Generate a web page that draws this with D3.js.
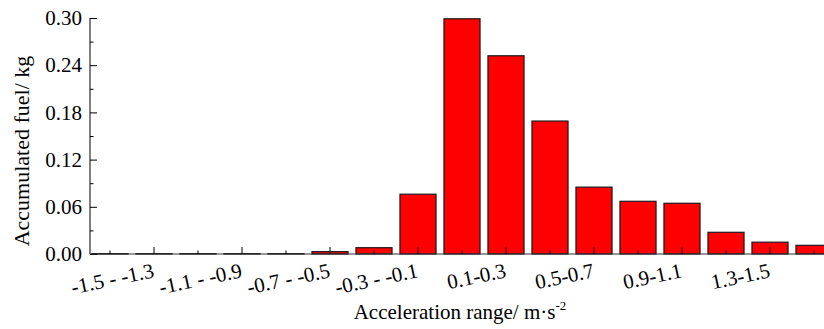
<!DOCTYPE html>
<html>
<head>
	<title></title>
	<script src="https://d3js.org/d3.v7.min.js"></script>
	<style>
		body { margin: 0; background: #fff; }
		svg { display: block; }
		text { font-family: "Liberation Serif", "Times New Roman", serif; fill: #000; }
	</style>
</head>
<body>
	<svg width="824" height="329"></svg>
<script type="text/javascript">

	// acceleration bins (m/s^2)
	var categories = ["-1.5 - -1.3", "-1.3 - -1.1", "-1.1 - -0.9", "-0.9 - -0.7", "-0.7 - -0.5",
		"-0.5 - -0.3", "-0.3 - -0.1", "-0.1-0.1", "0.1-0.3", "0.3-0.5", "0.5-0.7", "0.7-0.9",
		"0.9-1.1", "1.1-1.3", "1.3-1.5", "1.5-1.7", "1.7-1.9"];
	// accumulated fuel (kg)
	var fuel = [0.0005, 0.0005, 0.0005, 0.0005, 0.0005, 0.003, 0.008, 0.076, 0.299,
		0.252, 0.169, 0.085, 0.067, 0.0645, 0.0276, 0.015, 0.011];
	// only every other bin gets a label
	var tickLabels = ["-1.5 - -1.3", "-1.1 - -0.9", "-0.7 - -0.5", "-0.3 - -0.1",
		"0.1-0.3", "0.5-0.7", "0.9-1.1", "1.3-1.5"];
	var yTicks = [0, 0.06, 0.12, 0.18, 0.24, 0.30];

	var svg = d3.select("svg");
	const plotLeft = 90, plotTop = 18, plotBottom = 254;
	const step = 44;

	var x = d3.scaleBand()
		.domain(categories)
		.range([plotLeft - 2, plotLeft - 2 + categories.length * step])
		.paddingInner(0.18)
		.paddingOuter(0.09);
	var y = d3.scaleLinear()
		.domain([0, 0.30])
		.range([plotBottom, plotTop]);

	// bars
	svg.append("g")
		.selectAll("rect")
		.data(fuel)
		.enter().append("rect")
		.attr("x", function(d, i) { return x(categories[i]); })
		.attr("y", function(d) { return y(d); })
		.attr("width", x.bandwidth())
		.attr("height", function(d) { return y(0) - y(d); })
		.attr("fill", "#ff0000")
		.attr("stroke", "#1a1a1a")
		.attr("stroke-width", 1.2);

	// y axis, ticks point inward
	var yAxis = svg.append("g")
		.attr("transform", "translate(" + plotLeft + ",0)")
		.call(d3.axisRight(y).tickValues(yTicks).tickSize(7).tickFormat(""));
	yAxis.select(".domain").attr("stroke", "#000").attr("d", "M0," + plotTop + "V" + plotBottom);
	yAxis.selectAll(".tick line").attr("stroke", "#000");

	svg.append("g")
		.attr("transform", "translate(" + plotLeft + ",0)")
		.call(d3.axisRight(y).tickValues(d3.range(0.03, 0.30, 0.06)).tickSize(3.5).tickFormat(""))
		.call(function(g) { g.select(".domain").remove(); })
		.selectAll(".tick line").attr("stroke", "#000");

	svg.append("g")
		.attr("font-size", 21)
		.selectAll("text")
		.data(yTicks)
		.enter().append("text")
		.attr("x", plotLeft - 8)
		.attr("y", function(d) { return y(d); })
		.attr("dy", "0.34em")
		.attr("text-anchor", "end")
		.text(function(d) { return d3.format(".2f")(d); });

	// x axis, ticks point up into the bars
	var xAxis = svg.append("g")
		.attr("transform", "translate(0," + plotBottom + ")")
		.call(d3.axisTop(x).tickSizeOuter(0).tickFormat(""));
	xAxis.select(".domain").attr("stroke", "#333").attr("d", "M" + plotLeft + ",0H824");
	xAxis.selectAll(".tick line")
		.attr("stroke", "#000")
		.attr("y2", function(d, i) { return i % 2 ? -7 : -3.5; });

	svg.append("g")
		.attr("font-size", 21)
		.selectAll("text")
		.data(tickLabels)
		.enter().append("text")
		.attr("text-anchor", "end")
		.attr("transform", function(d) {
			return "translate(" + (x(d) + x.bandwidth() / 2 + 45) + ",277) rotate(-12)";
		})
		.text(function(d) { return d; });

	// axis titles
	var xt = svg.append("text")
		.attr("x", 460)
		.attr("y", 319)
		.attr("font-size", 21)
		.attr("text-anchor", "middle");
	xt.append("tspan").text("Acceleration range/ m\u00b7s");
	xt.append("tspan").attr("font-size", 13).attr("dy", -9).text("-2");

	svg.append("text")
		.attr("transform", "translate(29,151) rotate(-90)")
		.attr("font-size", 22)
		.attr("text-anchor", "middle")
		.text("Accumulated fuel/ kg");

</script>
</body>
</html>
